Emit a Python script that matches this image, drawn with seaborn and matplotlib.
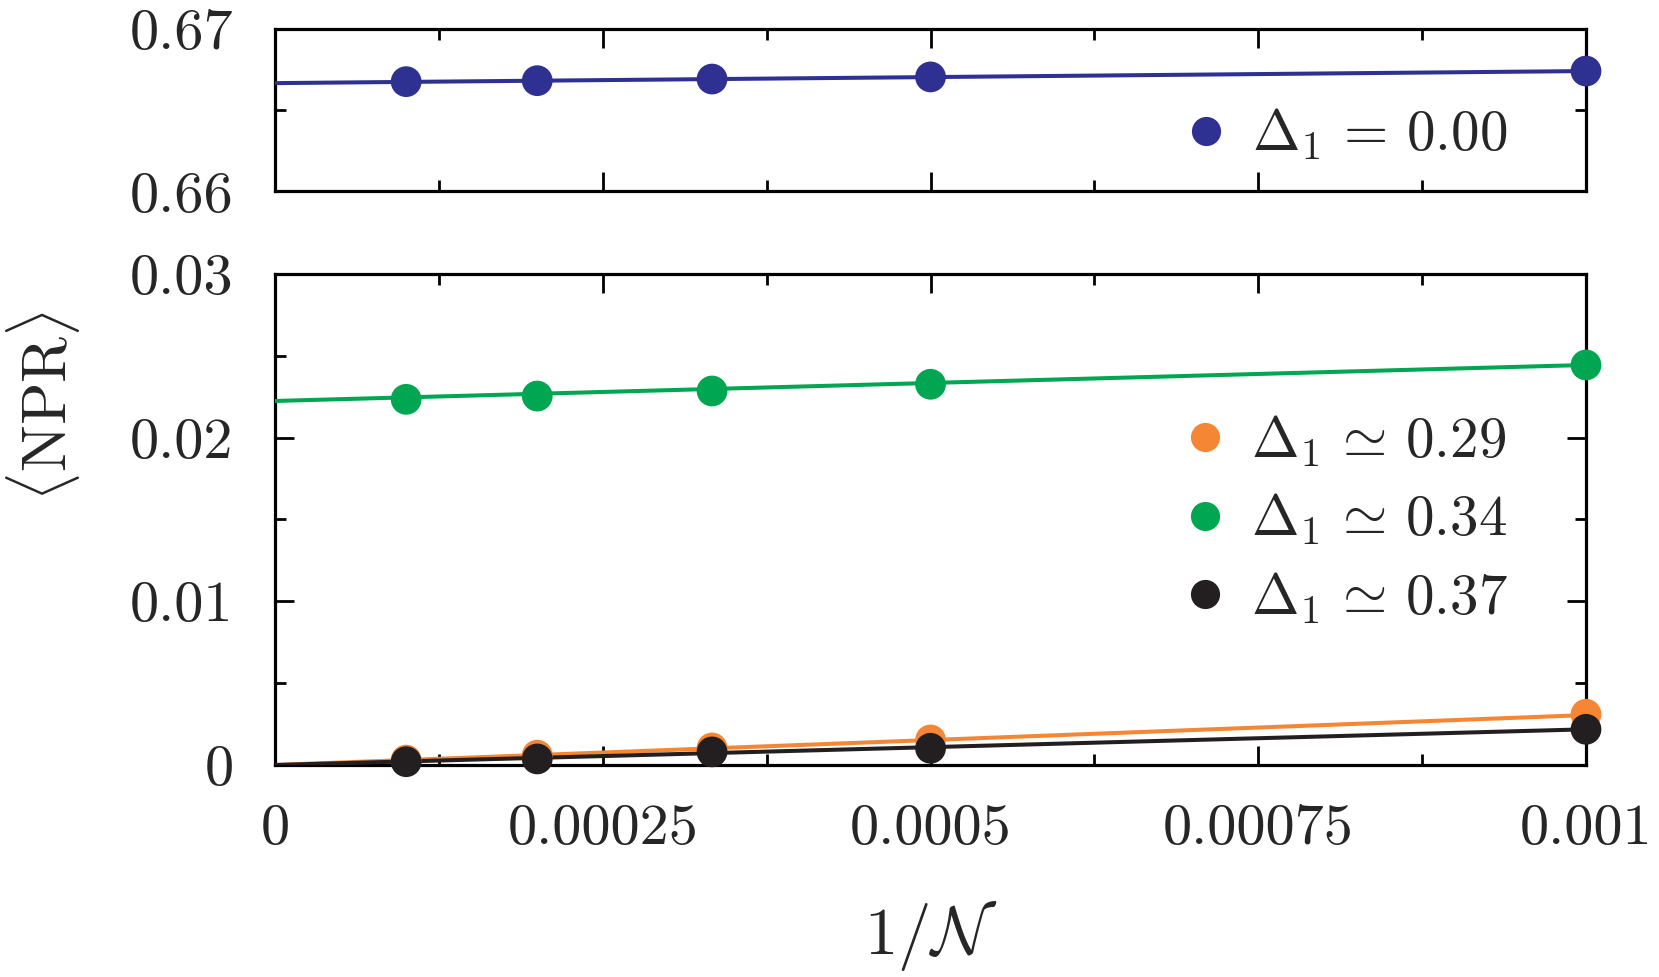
import numpy as np
import pandas as pd
import matplotlib
matplotlib.use("Agg")
import matplotlib.pyplot as plt
from matplotlib.lines import Line2D
from matplotlib.ticker import MultipleLocator, FixedLocator, FixedFormatter
import seaborn as sns

# ---------------- data ----------------
inv_N = [1e-4, 2e-4, 1/3000, 5e-4, 1e-3]

series_labels = [r"$\Delta_1\,=\,0.00$", r"$\Delta_1\,\simeq\,0.29$",
                 r"$\Delta_1\,\simeq\,0.34$", r"$\Delta_1\,\simeq\,0.37$"]
colors = ["#2E3192", "#F58634", "#00A651", "#231F20"]

npr_000 = [0.66674, 0.66680, 0.66690, 0.66703, 0.66739]
npr_029 = [0.00030, 0.00060, 0.00104, 0.00153, 0.00310]
npr_034 = [0.02234, 0.02254, 0.02285, 0.02326, 0.02444]
npr_037 = [0.00020, 0.00037, 0.00080, 0.00102, 0.00218]

# linear fits a + b * (1/N)
fit_intercept = [0.66665, 0.0, 0.02224, 0.0]
fit_slope = [0.74, 3.05, 2.20, 2.18]
fit_x = [0.0, 1e-3]

xticks = [0, 0.00025, 0.0005, 0.00075, 0.001]
xtick_labels = ["0", "0.00025", "0.0005", "0.00075", "0.001"]
top_yticks = [0.66, 0.67]
top_ytick_labels = ["0.66", "0.67"]
bot_yticks = [0, 0.01, 0.02, 0.03]
bot_ytick_labels = ["0", "0.01", "0.02", "0.03"]

# ---------------- style ----------------
sns.set_theme(style="ticks")
plt.rcParams["font.family"] = ["serif"]
plt.rcParams["font.serif"] = ["cmr10", "DejaVu Serif"]
plt.rcParams["mathtext.fontset"] = "cm"
plt.rcParams["axes.formatter.use_mathtext"] = True
plt.rcParams["axes.unicode_minus"] = False

TICK_FS = 42
LEG_FS = 41
XLABEL_FS = 48
YLABEL_FS = 45
LW = 2.9

all_y = [npr_000, npr_029, npr_034, npr_037]
pts = pd.DataFrame({
    "x": np.tile(inv_N, 4),
    "y": np.concatenate(all_y),
    "series": np.repeat(series_labels, len(inv_N)),
})
fit_rows = []
for lab, a, b in zip(series_labels, fit_intercept, fit_slope):
    for xv in fit_x:
        fit_rows.append({"x": xv, "y": a + b * xv, "series": lab})
fits = pd.DataFrame(fit_rows)
pal = dict(zip(series_labels, colors))

fig = plt.figure(figsize=(16.59, 9.77), dpi=100)
ax_top = fig.add_axes([0.1658, 0.804, 0.7902, 0.1668])
ax_bot = fig.add_axes([0.1658, 0.217, 0.7902, 0.5026])

MS = 490


def style_axis(ax):
    for sp in ax.spines.values():
        sp.set_linewidth(2.3)
        sp.set_color("black")
        sp.set_visible(True)
    ax.tick_params(which="both", direction="in", top=True, right=True,
                   bottom=True, left=True, color="black", width=2.0)
    ax.tick_params(which="major", length=13.5)
    ax.tick_params(which="minor", length=8)
    ax.set_xlim(0, 0.001)
    ax.xaxis.set_major_locator(FixedLocator(xticks))
    ax.xaxis.set_minor_locator(MultipleLocator(0.000125))
    ax.set_xlabel("")
    ax.set_ylabel("")
    ax.grid(False)


# top panel
top_lab = [series_labels[0]]
sns.lineplot(data=fits[fits.series.isin(top_lab)], x="x", y="y", hue="series",
             palette=pal, linewidth=LW, legend=False, ax=ax_top, zorder=3)
sns.scatterplot(data=pts[pts.series.isin(top_lab)], x="x", y="y", hue="series",
                palette=pal, s=MS, edgecolor="none", linewidth=0, legend=False,
                ax=ax_top, clip_on=False, zorder=5)
style_axis(ax_top)
ax_top.set_ylim(0.66, 0.67)
ax_top.yaxis.set_major_locator(FixedLocator(top_yticks))
ax_top.yaxis.set_major_formatter(FixedFormatter(top_ytick_labels))
ax_top.yaxis.set_minor_locator(MultipleLocator(0.005))
ax_top.tick_params(axis="x", which="both", labelbottom=False)
ax_top.tick_params(axis="y", labelsize=TICK_FS, pad=30)

# bottom panel
bot_lab = series_labels[1:]
sns.lineplot(data=fits[fits.series.isin(bot_lab)], x="x", y="y", hue="series",
             hue_order=bot_lab, palette=pal, linewidth=LW, legend=False,
             ax=ax_bot, zorder=3)
sns.scatterplot(data=pts[pts.series.isin(bot_lab)], x="x", y="y", hue="series",
                hue_order=bot_lab, palette=pal, s=MS, edgecolor="none",
                linewidth=0, legend=False, ax=ax_bot, clip_on=False, zorder=5)
style_axis(ax_bot)
ax_bot.set_ylim(0, 0.03)
ax_bot.yaxis.set_major_locator(FixedLocator(bot_yticks))
ax_bot.yaxis.set_major_formatter(FixedFormatter(bot_ytick_labels))
ax_bot.yaxis.set_minor_locator(MultipleLocator(0.005))
ax_bot.xaxis.set_major_formatter(FixedFormatter(xtick_labels))
ax_bot.tick_params(axis="y", labelsize=TICK_FS, pad=30)
ax_bot.tick_params(axis="x", labelsize=TICK_FS, pad=28)

ax_bot.set_xlabel(r"$1/\mathcal{N}$", fontsize=XLABEL_FS, labelpad=32)
fig.text(0.026, 0.585, r"$\langle\mathrm{NPR}\rangle$", rotation=90,
         fontsize=YLABEL_FS, ha="center", va="center")


def handles_for(labels):
    return [Line2D([], [], linestyle="none", marker="o", markersize=21,
                   markerfacecolor=pal[l], markeredgecolor="none") for l in labels]


ax_top.legend(handles=handles_for(top_lab), labels=top_lab, loc="center right",
              bbox_to_anchor=(0.94, 0.35), frameon=False, fontsize=LEG_FS,
              handlelength=0.6, handletextpad=0.5, borderpad=0, borderaxespad=0)
ax_bot.legend(handles=handles_for(bot_lab), labels=bot_lab, loc="center right",
              bbox_to_anchor=(0.94, 0.50), frameon=False, fontsize=LEG_FS,
              handlelength=0.6, handletextpad=0.5, labelspacing=0.4,
              borderpad=0, borderaxespad=0)

fig.savefig("out.png", dpi=100)
